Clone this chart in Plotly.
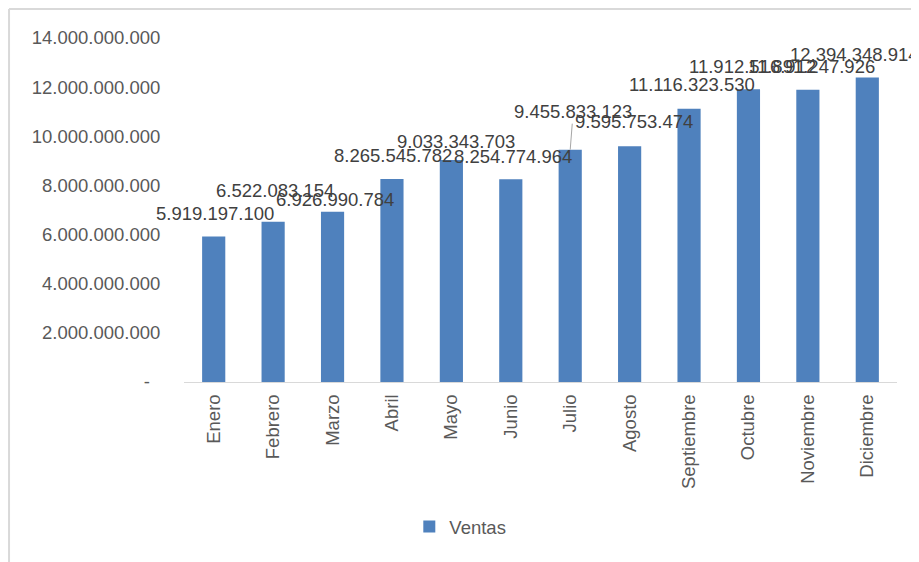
import plotly.graph_objects as go

months = ["Enero", "Febrero", "Marzo", "Abril", "Mayo", "Junio", "Julio",
          "Agosto", "Septiembre", "Octubre", "Noviembre", "Diciembre"]
ventas = [5919197100, 6522083154, 6926990784, 8265545782, 9033343703,
          8254774964, 9455833123, 9595753474, 11116323530, 11912516912,
          11891247926, 12394348914]
y_tickvals = [0, 2e9, 4e9, 6e9, 8e9, 10e9, 12e9, 14e9]
y_ticktext = ["-\u00a0\u00a0", "2.000.000.000", "4.000.000.000", "6.000.000.000",
              "8.000.000.000", "10.000.000.000", "12.000.000.000", "14.000.000.000"]

# label placement (pixels), style only
label_dx = [1, 2, 2, 1, 4.5, 2.5, 3, 4, 3, 4, 4, -13]
label_dy = [23, 31.5, 12.5, 23, 18.5, 23, 38, 24.7, 24, 23, 23, 22.5]
leader = [False, False, False, False, False, False, True, False, False, False, False, False]

FONT = "Liberation Sans, Arial, sans-serif"


def fmt(v):
    return f"{v:,}".replace(",", ".")


fig = go.Figure()
fig.add_trace(go.Bar(x=months, y=ventas, name="Ventas", marker_color="#4F81BD",
                     marker_line_width=0))

annotations = []
for m, v, dx, dy, ld in zip(months, ventas, label_dx, label_dy, leader):
    if ld:
        annotations.append(dict(x=m, y=v, xref="x", yref="y", text=fmt(v),
                                showarrow=True, arrowhead=0, ax=dx, ay=-dy,
                                arrowcolor="#a6a6a6", arrowwidth=1, standoff=0,
                                font=dict(size=18.5, color="#404040", family=FONT)))
    else:
        annotations.append(dict(x=m, y=v, xref="x", yref="y", text=fmt(v),
                                showarrow=False, xanchor="center", yanchor="middle",
                                xshift=dx, yshift=dy,
                                font=dict(size=18.5, color="#404040", family=FONT)))

fig.update_layout(
    width=919, height=562,
    margin=dict(l=176, r=30, t=30, b=188),
    paper_bgcolor="white", plot_bgcolor="white",
    font=dict(family=FONT, color="#595959"),
    bargap=0.61,
    annotations=annotations,
    showlegend=True,
    legend=dict(orientation="h", x=0.316, xanchor="left", y=-0.4215, yanchor="middle",
                font=dict(size=18.5, color="#595959", family=FONT)),
    xaxis=dict(range=[-0.5, 11.5], autorange=False, automargin=False,
               showgrid=False, showline=True, linecolor="#d9d9d9", linewidth=1,
               tickangle=-90, ticks="outside", ticklen=4, tickcolor="rgba(0,0,0,0)",
               tickfont=dict(size=18.5, color="#595959", family=FONT)),
    yaxis=dict(range=[0, 14e9], autorange=False, automargin=False,
               tickvals=y_tickvals, ticktext=y_ticktext,
               showgrid=False, zeroline=False, showline=False,
               ticks="outside", ticklen=19, tickcolor="rgba(0,0,0,0)",
               tickfont=dict(size=18.5, color="#595959", family=FONT)),
    shapes=[
        dict(type="line", xref="paper", yref="paper", x0=-0.2454, x1=1.1,
             y0=1.0843, y1=1.0843, line=dict(color="#d9d9d9", width=2)),
        dict(type="line", xref="paper", yref="paper", x0=-0.2454, x1=-0.2454,
             y0=1.0843, y1=-0.6, line=dict(color="#d9d9d9", width=2)),
    ],
)

fig.write_html("out.html")
